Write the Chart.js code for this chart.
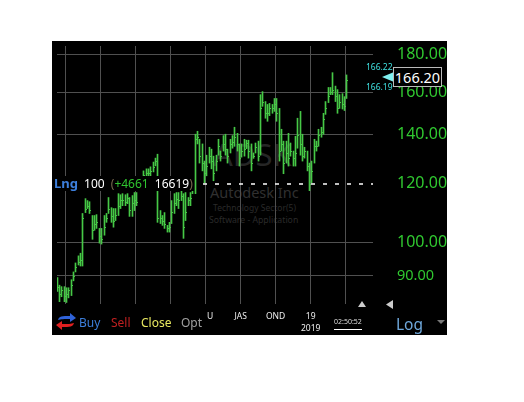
<!DOCTYPE html>
<html>
<head>
<meta charset="utf-8">
<title>ADSK</title>
<script src="https://cdn.jsdelivr.net/npm/chart.js@4"></script>
<style>
    body { margin: 0; background: #fff; font-family: "Noto Sans", sans-serif; }
    #panel { position: absolute; left: 52px; top: 41px; width: 395px; height: 294px; background: #000; overflow: hidden; }
    #priceChart { position: absolute; left: 0; top: 0; }
    .t { position: absolute; white-space: nowrap; line-height: 1; }
</style>
</head>
<body>
<div id="panel">
    <!-- watermark sits behind the transparent canvas -->
    <div class="t" style="left:161px;top:98px;font-size:31px;color:#262626">ADSK</div>
    <div class="t" style="left:158px;top:144px;font-size:14.5px;color:#303030">Autodesk Inc</div>
    <div class="t" style="left:161px;top:163px;font-size:8.5px;color:#2a2a2a">Technology Sector(5)</div>
    <div class="t" style="left:157px;top:175px;font-size:8.7px;color:#2a2a2a">Software - Application</div>

    <canvas id="priceChart" width="395" height="294"></canvas>

    <!-- position line -->
    <div class="t" style="left:2px;top:135px;height:15px;width:140px;background:#000;font-size:12px;line-height:15px;word-spacing:3px">
        <b style="color:#3d7fdc;font-size:13px">Lng</b> <span style="color:#fff">100</span> <span style="color:#7a6a50">(</span><span style="color:#2fc42f">+4661</span> <span style="color:#fff">16619</span><span style="color:#7a6a50">)</span>
    </div>

    <!-- last price box -->
    <div class="t" style="left:314px;top:22px;font-size:8.5px;color:#3fe0e0">166.22</div>
    <div class="t" style="left:314px;top:42px;font-size:8.5px;color:#3fe0e0">166.19</div>
    <svg style="position:absolute;left:330px;top:30px" width="14" height="12"><path d="M0 6L12 1V11Z" fill="#7ff0f0"/></svg>
    <div class="t" style="left:341px;top:26px;width:47px;height:18px;background:#000;border:1px solid #bbb;color:#fff;font-size:14.5px;line-height:18px;text-align:center">166.20</div>

    <!-- bottom toolbar -->
    <svg style="position:absolute;left:4px;top:272px" width="20" height="18">
        <path d="M2 7C3 3 6 3 14 3V0L20 5L14 9V6C8 6 5 6 2 7Z" fill="#2f62d8"/>
        <path d="M18 10C17 14 14 14 6 14V17L0 12L6 8V11C12 11 15 11 18 10Z" fill="#e02020"/>
    </svg>
    <div class="t" style="left:27px;top:276px;font-size:12px;color:#3d7fdc">Buy</div>
    <div class="t" style="left:59px;top:276px;font-size:12px;color:#c02020">Sell</div>
    <div class="t" style="left:89px;top:276px;font-size:12px;color:#e8e860">Close</div>
    <div class="t" style="left:129px;top:276px;font-size:12px;color:#a0a0a0">Opt</div>
    <div class="t" style="left:282px;top:277px;font-size:7px;color:#ddd;border-bottom:1px solid #fff;padding-bottom:4px">02:50:52</div>
    <svg style="position:absolute;left:305px;top:258px" width="12" height="10"><path d="M1 8L5 2L9 8Z" fill="#ccc"/></svg>
    <svg style="position:absolute;left:333px;top:258px" width="10" height="12"><path d="M8 1V10L1 5.5Z" fill="#ccc"/></svg>
    <div class="t" style="left:344px;top:276px;font-size:15.5px;color:#6fa8dc">Log</div>
    <svg style="position:absolute;left:384px;top:278px" width="10" height="6"><path d="M1 1H9L5 5Z" fill="#777"/></svg>
</div>

<script>
// ==========================================
// 1. DATA
// ==========================================
const highs = [89.5,87.4,87,87,86.7,86.7,88.9,91.1,93.7,95.8,96.6,109.4,114.6,113.9,113.5,108.7,108.7,109,104.4,104.4,108.7,109.4,115,111.4,111.1,111.1,116.4,116,116.4,116,116.4,115,115.7,116.8,116.8,121.2,122,125,125.8,125.8,126.6,128.5,130.1,131.7,110.4,108.7,109.7,105.4,106.4,113.9,116.4,116.8,116.8,117.5,116.4,116.8,115,116.8,120.4,140.2,141.5,138,136,128.9,131.3,134.6,133.8,130.9,131.3,138,133,139.6,140.2,133.8,138,139.6,143.3,140.6,136,136,138,137.6,137.6,136,132.2,136.4,137.2,158.7,160.2,155.3,153.9,154.4,153.9,156.8,156.8,152,142.4,137.2,137.2,140.6,136.4,133,139.3,147.4,150.6,140.2,134.6,133,128.1,128.9,138,137.2,142.4,143.3,149.7,155.3,162.3,162.3,170,163,161.2,158.7,159.2,157.7,168.8];
const lows = [85.7,83,84.3,83,82.8,84,84.6,88.6,91.1,93.1,92.8,92.8,109.7,111.1,109.4,100.9,103.8,104.4,99.7,99.4,102.2,106.4,109.4,106.4,104.8,107,108.7,111.1,112.1,112.1,112.8,108.4,108.4,110.4,112.1,117.5,118.2,122,122,122.4,122.4,124.6,127,106.4,106,105.4,104.4,103.2,103.2,106,109.4,112.1,111.1,113.9,101.2,107,112.1,112.1,116.4,116.4,136,128.1,125,120.4,123.1,128.1,125.8,121.2,125,131.3,128.9,133,131.3,128.1,132.2,134.2,135,133,126.9,130.5,130.9,134,130.1,125,130,132.2,128.9,131.3,153,147.4,146,148.6,149.7,150.6,146,128.9,133,123.9,128.1,126.9,130.9,126.9,126.9,134.2,131.3,128.9,130.1,125,117.5,120.4,128.1,133,135,138.9,140.2,149.2,154.8,158.7,158.7,155.3,149.7,152,151.7,151,156.8];
const closes = [87,85,86,84.5,85,86,87.5,90,92.5,94,94.5,108,111,112,110.5,104,106,106.5,102,101,105,108,111,108.5,107,109,112,114,114,113.5,115,110.5,113,114,113.5,119,120,123.5,124,124,125,126.5,129,108,108,107,106,104.5,105,110,113,114.5,114,115.5,105,110,114,115,118,138,139,131,128,124,127,131,129,124,129,135,131,136,134,131,136,137,139,136,130,133,134,136.5,133,128,131,134.5,131,152,155,150,150,152,152,154,150,133,136,128,132,130,133,130,132,140,136,131,133,127,120,125,135,135,140,141,147,152,158,160,161,158,152,155,154,153,166.2];

const barIndex = highs.map((h, i) => i);
const priceTicks = [180, 160, 140, 120, 100, 90];
const gridPositions = [3.5, 18.5, 33.5, 48.5, 63.5, 78.5, 93.5, 108.5, 123.5];
const gridLabels = ["", "", "", "", "    U", "JAS", "OND", ["19", "2019"], ""];
const positionPrice = 120;
const positionFrom = 62.4;

// ==========================================
// 2. CHART
// ==========================================
const ctx = document.getElementById('priceChart').getContext('2d');

// Snap the thin bars to whole pixels, and put the close ticks on the right of each bar
const snapBars = {
    id: 'snapBars',
    beforeDatasetsDraw(chart) {
        chart.data.datasets.forEach((ds, idx) => {
            chart.getDatasetMeta(idx).data.forEach(el => {
                if (ds.label === 'Range') {
                    el.x = Math.floor(el.x) + 0.5;
                } else if (ds.label === 'Close') {
                    el.x = Math.floor(el.x) + 1.5;
                    el.y = Math.round(el.y) + 0.5;
                }
            });
        });
    }
};

new Chart(ctx, {
    type: 'bar',
    data: {
        datasets: [
            {
                label: 'Close',
                type: 'line',
                data: barIndex.map(i => ({ x: i, y: closes[i] })),
                showLine: false,
                pointStyle: 'line',
                pointRadius: 0.5,
                pointBorderWidth: 1,
                pointBorderColor: '#46c846',
                order: 1
            },
            {
                label: 'Position',
                type: 'line',
                data: [{ x: positionFrom, y: positionPrice }, { x: 135.2, y: positionPrice }],
                borderColor: '#fff',
                borderWidth: 1.5,
                borderDash: [4, 8],
                pointRadius: 0,
                order: 0
            },
            {
                label: 'Range',
                data: barIndex.map(i => ({ x: i, y: [lows[i], highs[i]] })),
                backgroundColor: '#46c846',
                barThickness: 1,
                order: 2
            }
        ]
    },
    plugins: [snapBars],
    options: {
        responsive: false,
        animation: false,
        layout: { padding: { left: 3, top: 3 } },
        plugins: { legend: { display: false }, tooltip: { enabled: false } },
        scales: {
            x: {
                type: 'linear',
                offset: false,
                min: -0.13,
                max: 135.2,
                grid: { offset: false, color: '#505050', drawTicks: false },
                border: { display: false },
                afterBuildTicks: axis => { axis.ticks = gridPositions.map(v => ({ value: v })); },
                afterFit: axis => {
                    axis.height = 31;
                    axis.paddingLeft = 0;
                    axis.paddingRight = 0;
                },
                ticks: {
                    autoSkip: false,
                    maxRotation: 0,
                    padding: 7,
                    color: '#eee',
                    font: { family: 'Noto Sans', size: 8.5, lineHeight: 1.4 },
                    callback: (value, index) => gridLabels[index]
                }
            },
            y: {
                type: 'logarithmic',
                position: 'right',
                bounds: 'data',
                min: 82.4,
                max: 184.8,
                grid: {
                    // the dashed position line replaces the 120 grid line
                    color: c => c.tick && c.tick.value === positionPrice ? 'transparent' : '#505050',
                    drawTicks: false
                },
                border: { display: false },
                afterBuildTicks: axis => { axis.ticks = priceTicks.map(v => ({ value: v })); },
                afterFit: axis => {
                    axis.width = 74;
                    axis.paddingTop = 0;
                    axis.paddingBottom = 0;
                },
                ticks: {
                    padding: 24,
                    color: '#30c830',
                    font: c => ({ family: 'Noto Sans', size: c.tick && c.tick.value === 90 ? 14.5 : 16 }),
                    callback: value => value.toFixed(2)
                }
            }
        }
    }
});
</script>
</body>
</html>
